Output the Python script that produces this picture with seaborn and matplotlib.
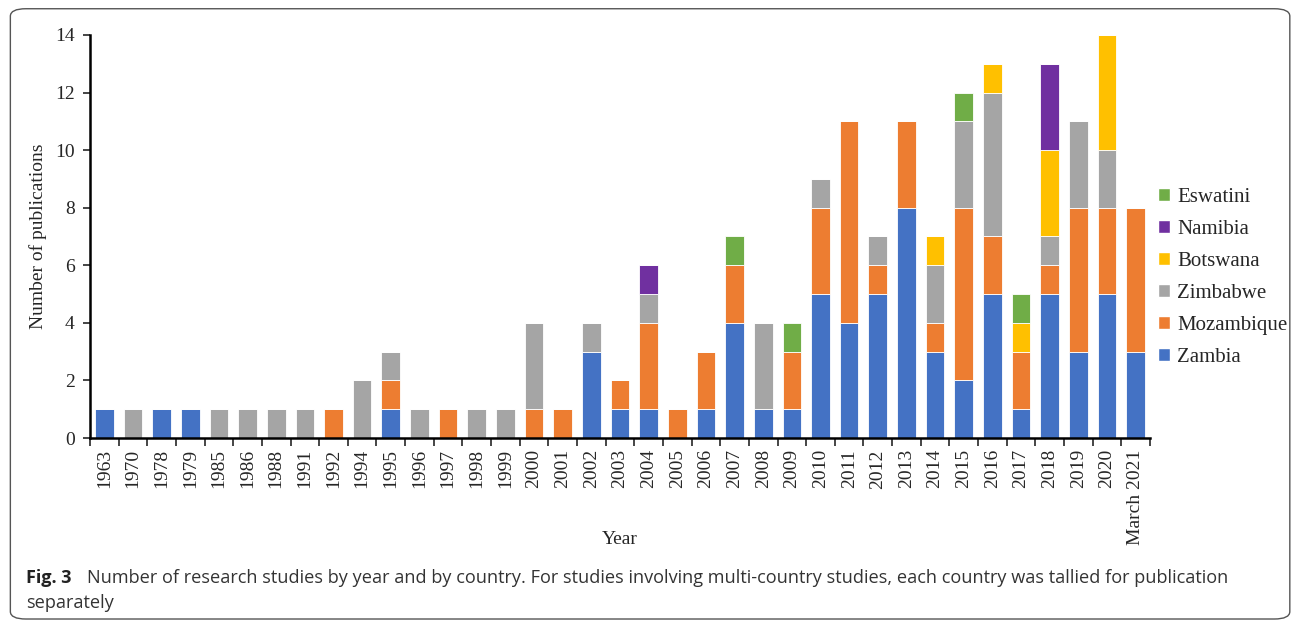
import numpy as np
import pandas as pd
import matplotlib
matplotlib.use('Agg')
import matplotlib.pyplot as plt
from matplotlib.patches import FancyBboxPatch, Patch
import seaborn as sns

# =============================================================================
# DATA
# =============================================================================
years = ['1963', '1970', '1978', '1979', '1985', '1986', '1988', '1991',
         '1992', '1994', '1995', '1996', '1997', '1998', '1999', '2000',
         '2001', '2002', '2003', '2004', '2005', '2006', '2007', '2008',
         '2009', '2010', '2011', '2012', '2013', '2014', '2015', '2016',
         '2017', '2018', '2019', '2020', 'March 2021']

zambia     = [1, 0, 1, 1, 0, 0, 0, 0, 0, 0, 1, 0, 0, 0, 0, 0, 0, 3, 1, 1, 0,
              1, 4, 1, 1, 5, 4, 5, 8, 3, 2, 5, 1, 5, 3, 5, 3]
mozambique = [0, 0, 0, 0, 0, 0, 0, 0, 1, 0, 1, 0, 1, 0, 0, 1, 1, 0, 1, 3, 1,
              2, 2, 0, 2, 3, 7, 1, 3, 1, 6, 2, 2, 1, 5, 3, 5]
zimbabwe   = [0, 1, 0, 0, 1, 1, 1, 1, 0, 2, 1, 1, 0, 1, 1, 3, 0, 1, 0, 1, 0,
              0, 0, 3, 0, 1, 0, 1, 0, 2, 3, 5, 0, 1, 3, 2, 0]
botswana   = [0, 0, 0, 0, 0, 0, 0, 0, 0, 0, 0, 0, 0, 0, 0, 0, 0, 0, 0, 0, 0,
              0, 0, 0, 0, 0, 0, 0, 0, 1, 0, 1, 1, 3, 0, 4, 0]
namibia    = [0, 0, 0, 0, 0, 0, 0, 0, 0, 0, 0, 0, 0, 0, 0, 0, 0, 0, 0, 1, 0,
              0, 0, 0, 0, 0, 0, 0, 0, 0, 0, 0, 0, 3, 0, 0, 0]
eswatini   = [0, 0, 0, 0, 0, 0, 0, 0, 0, 0, 0, 0, 0, 0, 0, 0, 0, 0, 0, 0, 0,
              0, 1, 0, 1, 0, 0, 0, 0, 0, 1, 0, 1, 0, 0, 0, 0]

paises = ['Zambia', 'Mozambique', 'Zimbabwe', 'Botswana', 'Namibia', 'Eswatini']
series = [zambia, mozambique, zimbabwe, botswana, namibia, eswatini]
colores = ['#4472C4', '#ED7D31', '#A5A5A5', '#FFC000', '#7030A0', '#70AD47']

df = pd.DataFrame(dict(zip(paises, series)), index=years)
df.index.name = 'Year'

# =============================================================================
# PLOT
# =============================================================================
sns.set_style('white')
plt.rcParams['font.family'] = ['Liberation Serif', 'DejaVu Serif']

fig = plt.figure(figsize=(12.95, 6.24), dpi=100)
ax = fig.add_axes([0.0695, 0.298, 0.8185, 0.646])

bottoms = np.zeros(len(years))
for pais, color in zip(paises, colores):
    vals = df[pais].values
    sns.barplot(
        x=years,
        y=vals,
        order=years,
        bottom=bottoms,
        color=color,
        saturation=1,
        width=0.65,
        edgecolor='white',
        linewidth=0.6,
        ax=ax
    )
    bottoms = bottoms + vals

ax.set_xlim(-0.5, len(years) - 0.5)
ax.set_ylim(0, 14)
ax.set_yticks(range(0, 15, 2))
ax.tick_params(axis='y', labelsize=14, length=5, width=1.2,
               direction='out', left=True, pad=6)

# ticks entre categorias, etiquetas al centro
ax.set_xticks(np.arange(-0.5, len(years), 1))
ax.set_xticklabels([])
ax.set_xticks(np.arange(len(years)), minor=True)
ax.set_xticklabels(years, minor=True, rotation=90, fontsize=14)
ax.tick_params(axis='x', which='major', length=6, width=1.2,
               direction='out', bottom=True)
ax.tick_params(axis='x', which='minor', length=0, pad=8)

for lado in ['top', 'right']:
    ax.spines[lado].set_visible(False)
for lado in ['left', 'bottom']:
    ax.spines[lado].set_color('black')
    ax.spines[lado].set_linewidth(1.8)

ax.set_xlabel('Year', fontsize=14)
ax.xaxis.set_label_coords(0.5, -0.231)
ax.set_ylabel('Number of publications', fontsize=14, labelpad=6)

handles = [Patch(facecolor=c, label=p) for p, c in zip(paises, colores)][::-1]
ax.legend(
    handles=handles,
    loc='center left',
    bbox_to_anchor=(0.99, 0.398),
    frameon=False,
    prop={'family': ['Liberation Serif'], 'size': 15},
    handlelength=0.58,
    handleheight=0.58,
    handletextpad=0.33,
    labelspacing=0.62
)

# marco redondeado y pie de figura
marco = FancyBboxPatch(
    (0.008, 0.008), 0.988, 0.978,
    boxstyle='round,pad=0,rounding_size=0.012',
    transform=fig.transFigure,
    facecolor='none',
    edgecolor='#555555',
    linewidth=1.0
)
fig.patches.append(marco)

fig.text(0.02, 0.074, 'Fig. 3', fontsize=13, fontweight='bold',
         family=['Open Sans', 'DejaVu Sans'], va='center', color='#222222')
fig.text(0.0672, 0.074,
         'Number of research studies by year and by country. For studies '
         'involving multi-country studies, each country was tallied for publication',
         fontsize=13.1, family=['Open Sans', 'DejaVu Sans'], va='center',
         color='#333333')
fig.text(0.02, 0.034, 'separately', fontsize=13.1,
         family=['Open Sans', 'DejaVu Sans'], va='center', color='#333333')

plt.savefig('out.png', dpi=100)
